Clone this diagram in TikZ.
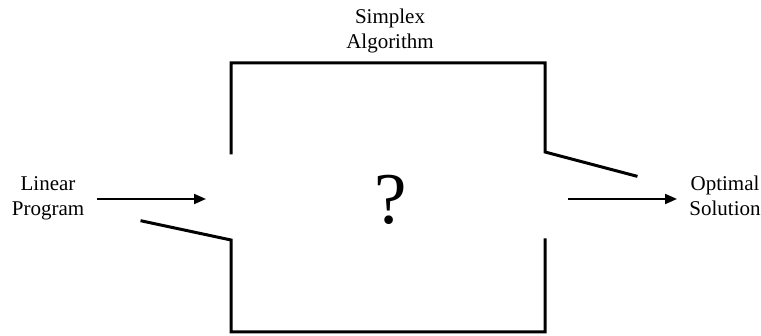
\documentclass[tikz,border=0pt]{standalone}
\usepackage{fontspec}
\setmainfont{Liberation Serif}
\usetikzlibrary{arrows.meta}
\begin{document}
\begin{tikzpicture}[x=1pt,y=-1pt,
  wall/.style={line width=3pt,line cap=rect,line join=miter},
  flow/.style={line width=2pt,-{Triangle[length=12pt,width=10pt]}},
  lbl/.style={font=\fontsize{21}{25}\selectfont,align=center,inner sep=0pt}]
\useasboundingbox (0,0) rectangle (761,336);
% box corners
\coordinate (tl) at (231,63);
\coordinate (tr) at (545,63);
\coordinate (bl) at (231,332);
\coordinate (br) at (545,332);
\coordinate (lgapT) at (231,153);
\coordinate (lgapB) at (231,240);
\coordinate (lflap) at (142,221);
\coordinate (rgapT) at (545,152);
\coordinate (rgapB) at (545,240);
\coordinate (rflap) at (636,176);
\draw[wall] (lgapT) -- (tl) -- (tr) -- (rgapT) -- (rflap);
\draw[wall] (lflap) -- (lgapB) -- (bl) -- (br) -- (rgapB);
% labels
\node[lbl] (title) at (390,30.5) {Simplex\\Algorithm};
\node[lbl] (inp) at (48,198) {Linear\\Program};
\node[lbl] (outp) at (725,196) {Optimal\\Solution};
\node[font=\fontsize{73}{73}\selectfont,inner sep=0pt] (q) at (391,200) {?};
% arrows
\coordinate (ainS) at (97,199);
\coordinate (ain) at (206,199);
\coordinate (aout) at (568,199);
\coordinate (aoutE) at (677,199);
\draw[flow] (ainS) -- (ain);
\draw[flow] (aout) -- (aoutE);
\end{tikzpicture}
\end{document}
